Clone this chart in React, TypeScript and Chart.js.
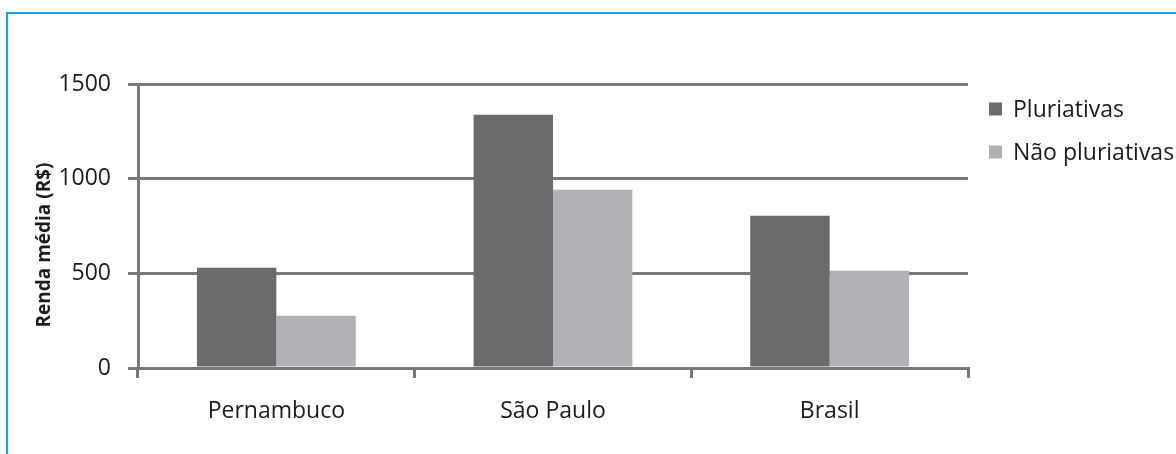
import React, { useEffect, useRef } from "react";
import { Chart, registerables } from "chart.js";

Chart.register(...registerables);

const categories = ["Pernambuco", "São Paulo", "Brasil"];
const pluriativas = [530, 1338, 804];
const naoPluriativas = [276, 942, 514];
const seriesLabels = ["Pluriativas", "Não pluriativas"];
const yMin = 0;
const yMax = 1500;
const yStep = 500;
const yTitle = "Renda média (R$)";

const FONT = "'Open Sans', sans-serif";
const GRID = "#77787b";
const TEXT = "#1e1b1c";
const DARK = "#6b6b6d";
const LIGHT = "#b0b1b4";
const FRAME = "#1aa3dc";

const customPlugin = {
  id: "customDecor",
  afterDraw(chart: any) {
    const ctx = chart.ctx;
    const area = chart.chartArea;
    // y-axis title
    ctx.save();
    ctx.translate(45, (area.top + area.bottom) / 2 + 19);
    ctx.rotate(-Math.PI / 2);
    ctx.font = `bold 19px ${FONT}`;
    ctx.fillStyle = TEXT;
    ctx.textAlign = "center";
    ctx.textBaseline = "middle";
    ctx.fillText(yTitle, 0, 0);
    ctx.restore();
    // legend
    ctx.save();
    ctx.font = `23px ${FONT}`;
    ctx.textAlign = "left";
    ctx.textBaseline = "middle";
    chart.data.datasets.forEach((ds: any, i: number) => {
      const bx = area.right + 21;
      const cy = area.top + 25 + i * 43;
      ctx.fillStyle = ds.backgroundColor;
      ctx.fillRect(bx, cy - 6.5, 13, 13);
      ctx.fillStyle = TEXT;
      ctx.fillText(ds.label, bx + 24, cy + 1);
    });
    ctx.restore();
  },
};

export default function App() {
  const ref = useRef<HTMLCanvasElement | null>(null);
  useEffect(() => {
    if (!ref.current) return;
    const chart = new Chart(ref.current, {
      type: "bar",
      data: {
        labels: categories,
        datasets: [
          { label: seriesLabels[0], data: pluriativas, backgroundColor: DARK, borderWidth: 0 },
          { label: seriesLabels[1], data: naoPluriativas, backgroundColor: LIGHT, borderWidth: 0 },
        ],
      },
      options: {
        responsive: false,
        animation: false,
        devicePixelRatio: 1,
        layout: { padding: { top: 84, right: 208, bottom: 0, left: 0 } },
        datasets: { bar: { categoryPercentage: 0.574, barPercentage: 1.0 } },
        plugins: { legend: { display: false }, tooltip: { enabled: false }, title: { display: false } },
        scales: {
          x: {
            type: "category",
            offset: true,
            grid: {
              display: true,
              offset: true,
              drawOnChartArea: false,
              drawTicks: true,
              tickLength: 10,
              color: GRID,
              lineWidth: 3,
            },
            border: { display: true, color: GRID, width: 3 },
            ticks: { font: { family: FONT, size: 23 }, color: TEXT, padding: 20, maxRotation: 0 },
            afterFit: (s: any) => { s.height = 86; },
          },
          y: {
            min: yMin,
            max: yMax,
            ticks: {
              stepSize: yStep,
              font: { family: FONT, size: 23 },
              color: TEXT,
              padding: 17,
              callback: (v: any) => String(v),
            },
            grid: { color: GRID, lineWidth: 3, drawTicks: true, tickLength: 10 },
            border: { display: true, color: GRID, width: 3 },
            afterFit: (s: any) => { s.width = 138; },
          },
        },
      },
      plugins: [customPlugin],
    } as any);
    return () => chart.destroy();
  }, []);

  return (
    <div style={{ position: "absolute", left: 0, top: 0, width: 1176, height: 454, overflow: "hidden", background: "#fff" }}>
      <div
        style={{
          position: "absolute",
          left: 6,
          top: 12,
          width: 1300,
          height: 600,
          borderTop: `2px solid ${FRAME}`,
          borderLeft: `2px solid ${FRAME}`,
        }}
      />
      <canvas ref={ref} width={1176} height={454} style={{ position: "absolute", left: 0, top: 0 }} />
    </div>
  );
}
